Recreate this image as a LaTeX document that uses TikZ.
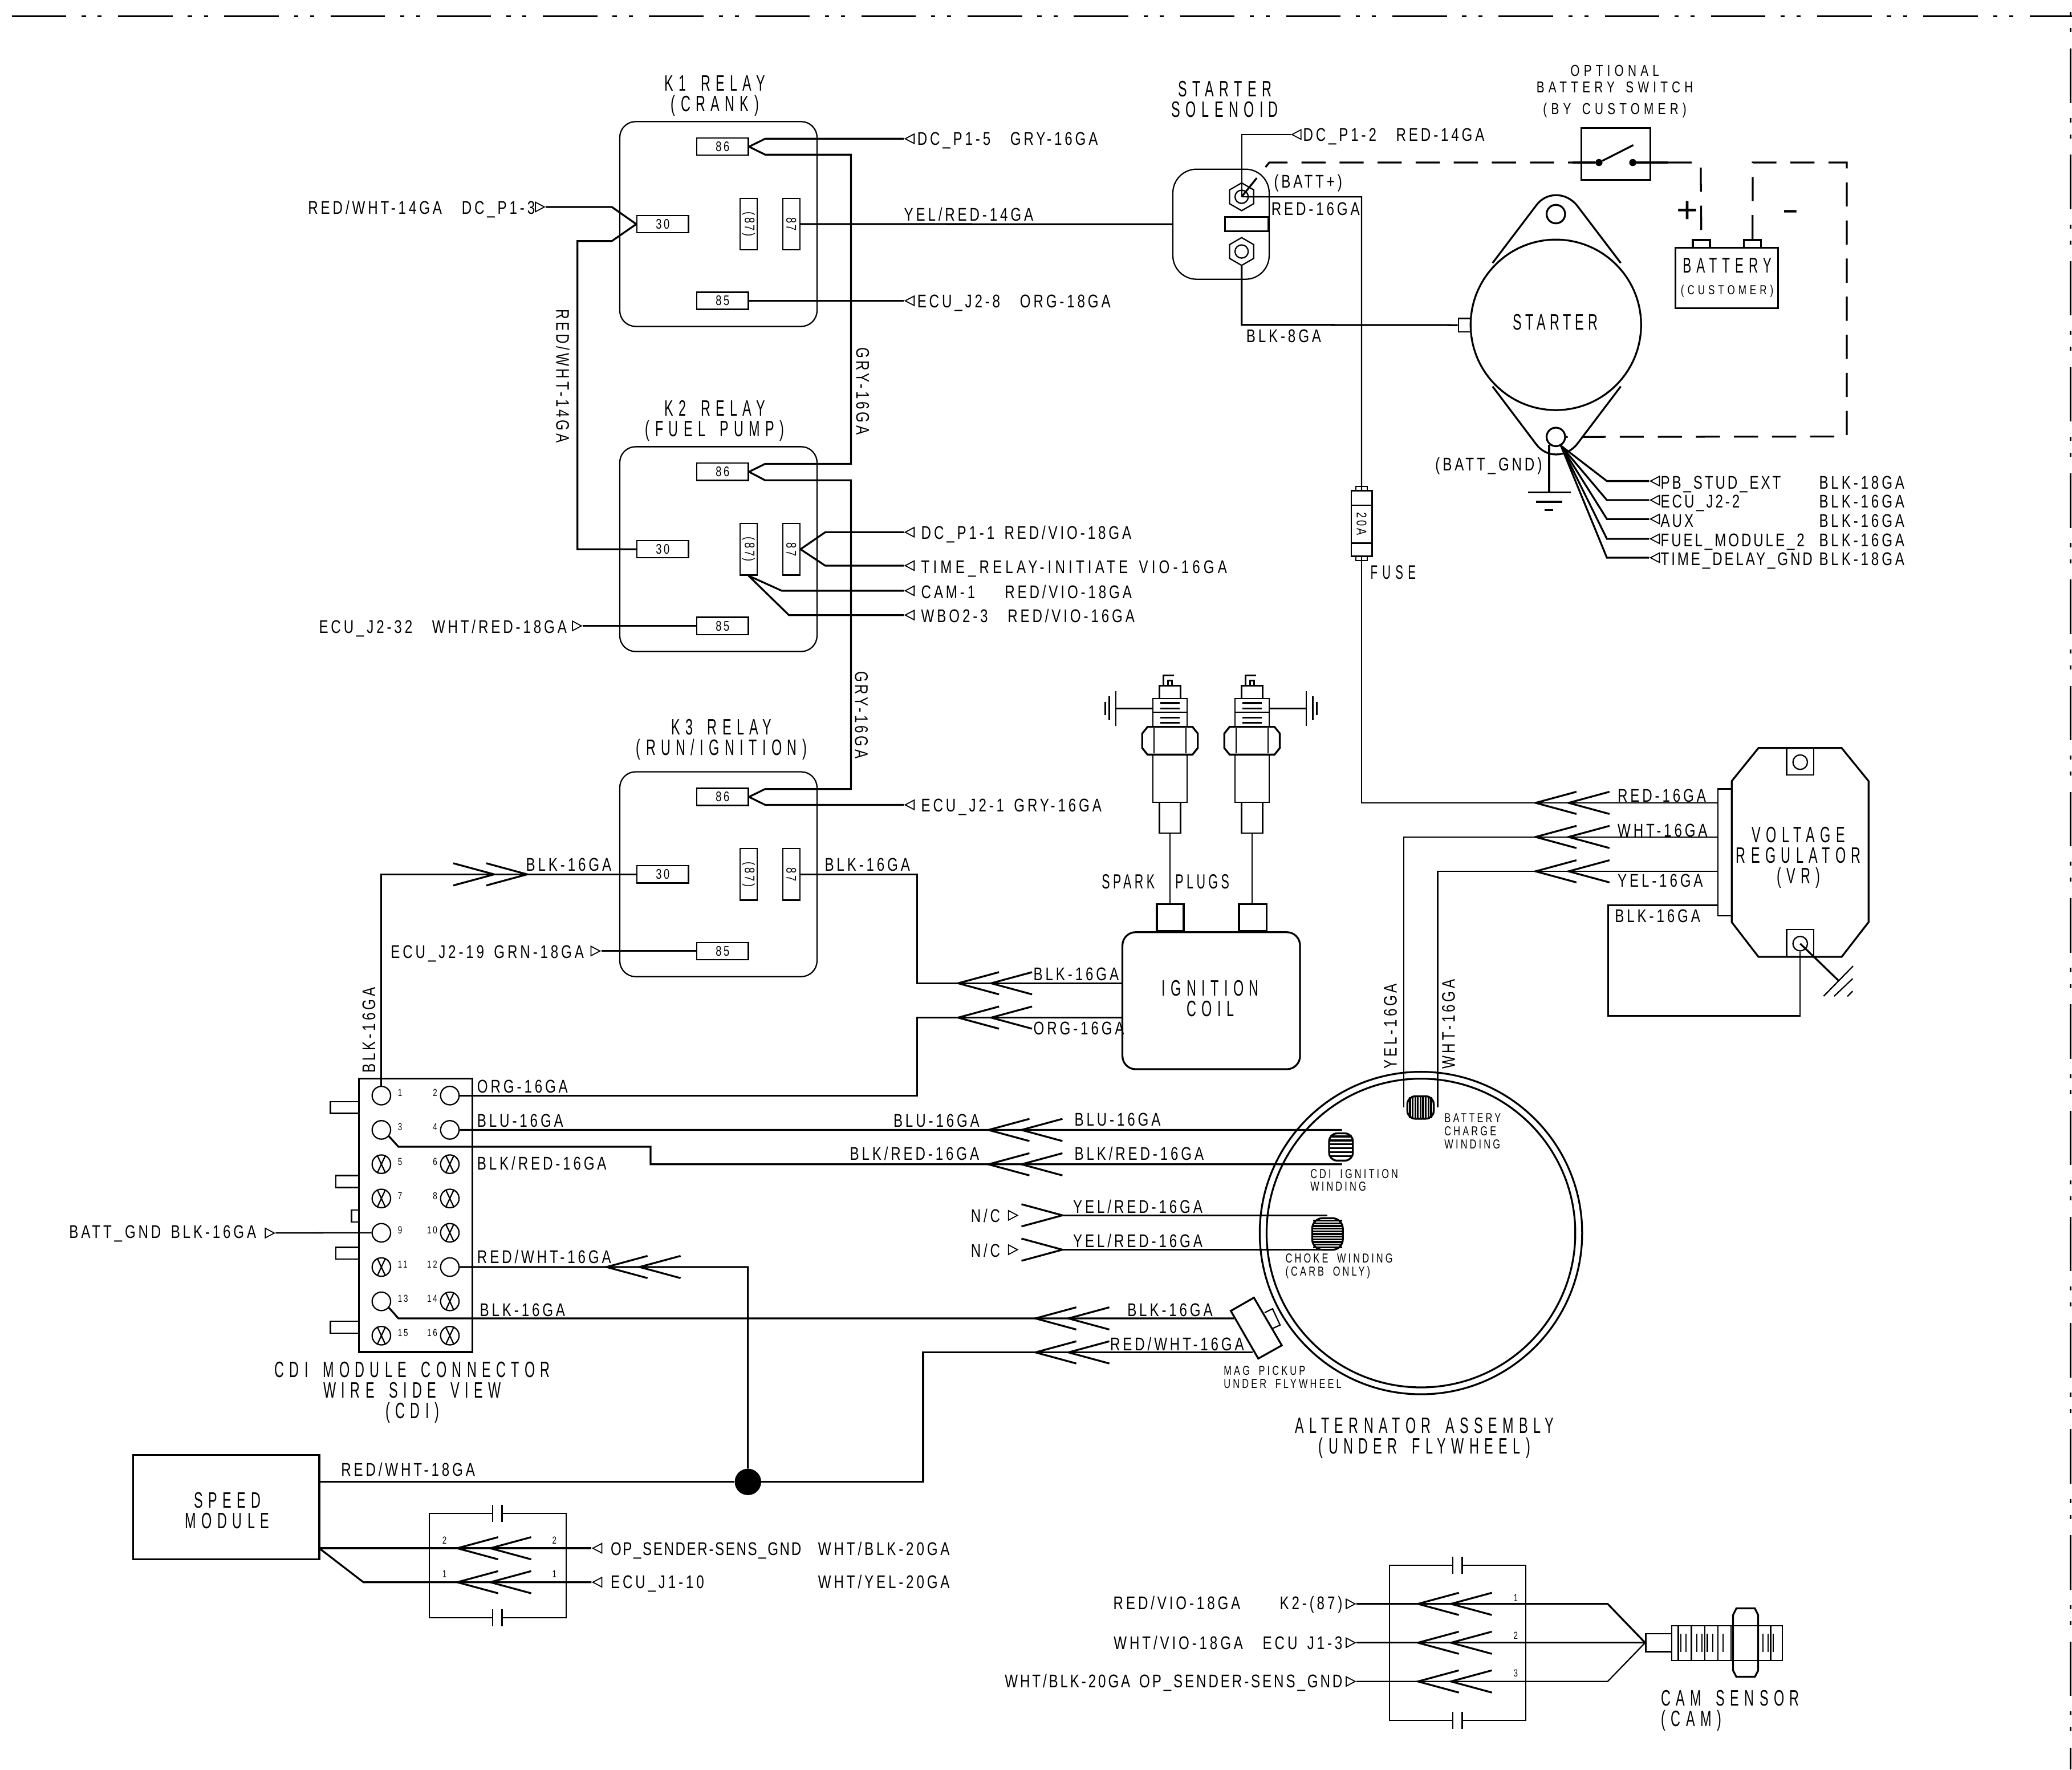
\documentclass[tikz,border=0pt]{standalone}
\usepackage{fontspec}
\setmainfont{Liberation Sans}
\newfontfamily\wirefont{Liberation Sans}[FakeStretch=0.75,LetterSpace=15,WordSpace=1.5]
\newfontfamily\titlefont{Liberation Sans}[FakeStretch=0.6,LetterSpace=24,WordSpace=1.6]
\newfontfamily\tinyfont{Liberation Sans}[FakeStretch=0.72,LetterSpace=18,WordSpace=1.8]
\usetikzlibrary{shapes.geometric}
\tikzset{
	wire/.style={line width=2pt},
	thinwire/.style={line width=1.4pt},
	dashwire/.style={line width=2pt, dash pattern=on 26pt off 15pt},
	borderline/.style={line width=2pt, dash pattern=on 58.7pt off 16.4pt on 4.5pt off 12.8pt on 4.3pt off 17.63pt},
	lbl/.style={font=\wirefont\fontsize{19.8}{22}\selectfont, inner sep=0pt, text height=14.2pt, text depth=0pt},
	lblw/.style={lbl, anchor=west},
	lble/.style={lbl, anchor=east},
	ttl/.style={font=\titlefont\fontsize{24}{22}\selectfont, inner sep=0pt, align=center},
	tiny/.style={font=\tinyfont\fontsize{14}{14}\selectfont, inner sep=0pt, align=left, anchor=west},
	pinbox/.style={draw, thinwire, inner sep=0pt, font=\wirefont\fontsize{15}{15}\selectfont, minimum width=1.95cm, minimum height=.65cm},
	pinboxv/.style={pinbox, rotate=-90},
	cdipin/.style={circle, draw, thinwire, inner sep=0pt, minimum size=.7cm},
	pinnum/.style={font=\wirefont\fontsize{11}{11}\selectfont, inner sep=0pt},
	termbase/.style={isosceles triangle, isosceles triangle stretches, draw, line width=1.1pt, inner sep=0pt, minimum width=.36cm, minimum height=.34cm, anchor=apex},
	termL/.style={termbase, shape border rotate=180},
	termR/.style={termbase},
	box/.style={draw, wire, inner sep=0pt},
}
\newcommand{\chev}[3]{\draw[wire] (#1+#3,#2-8.4) -- (#1,#2) -- (#1+#3,#2+8.4);}
\newcommand{\connmark}[2]{
	\fill[white] (#1-3.5,#2-2.5) rectangle (#1+3.5,#2+2.5);
	\draw[thinwire] (#1-3.5,#2-6.5) -- +(0,13) (#1+3.5,#2-6.5) -- +(0,13);
}
\newcommand{\tight}{\addfontfeature{LetterSpace=12}}
\begin{document}
\begin{tikzpicture}[x=.05cm, y=-.05cm]
	\useasboundingbox (0,0) rectangle (1568,1339);
	\draw[borderline] (9,12.4) -- (1568,12.4);
	\draw[borderline] (1566.8,-43.67) -- (1566.8,1339);
	% relays
	\foreach \kn/\ky in {1/0, 2/246, 3/492} {
		\begin{scope}[shift={(0,\ky)}]
			\node[box, thinwire, rounded corners=.6cm, minimum width=7.465cm, minimum height=7.75cm] (k\kn box) at (543.65,169.5) {};
			\node[pinbox] (k\kn p86) at (546.8,111) {86};
			\node[pinbox] (k\kn p85) at (546.8,227.6) {85};
			\node[pinbox] (k\kn p30) at (501.5,169.6) {30};
			\node[pinboxv] (k\kn pb) at (566.4,169.6) {(87)};
			\node[pinboxv] (k\kn p87) at (598.8,169.6) {87};
		\end{scope}
	}
	\node[ttl] (k1ttl) at (541,72.5) {K1 RELAY\\(CRANK)};
	\node[ttl] (k2ttl) at (541,318.5) {K2 RELAY\\(FUEL PUMP)};
	\node[ttl] (k3ttl) at (546,559.5) {K3 RELAY\\(RUN/IGNITION)};
	% relay terminals
	\node[termL] (tk1a) at (684,105) {};
	\node[termL] (tk1b) at (684,227.6) {};
	\node[termR] (tk1c) at (413,156.6) {};
	\node[termL] (tk2a) at (684,402.7) {};
	\node[termL] (tk2b) at (684,428) {};
	\node[termL] (tk2c) at (684,447) {};
	\node[termL] (tk2e) at (684,465.4) {};
	\node[termR] (tk2d) at (441,473.6) {};
	\node[termL] (tk3a) at (684,609) {};
	\node[termR] (tk3d) at (455,719.6) {};
	\node[lblw] (lk1a) at (694,105) {DC\_P1-5 \ GRY-16GA};
	\node[lblw] (lk1b) at (694,228) {ECU\_J2-8 \ ORG-18GA};
	\node[lble] (lk1c) at (405,157) {RED/WHT-14GA \ DC\_P1-3};
	\node[lblw] (lk1y) at (684,162) {YEL/RED-14GA};
	\node[lbl, rotate=-90] (lk1v) at (426,284.5) {RED/WHT-14GA};
	\node[lbl, rotate=-90] (lgry1) at (653,296) {GRY-16GA};
	\node[lbl, rotate=-90] (lgry2) at (652,541) {GRY-16GA};
	\node[lblw] (lk2a) at (697,403) {DC\_P1-1 RED/VIO-18GA};
	\node[lblw] (lk2b) at (697,429) {\addfontfeature{LetterSpace=19}TIME\_RELAY-INITIATE VIO-16GA};
	\node[lblw] (lk2c) at (697,448) {CAM-1 \ \ RED/VIO-18GA};
	\node[lblw] (lk2e) at (697,466) {WBO2-3 \ RED/VIO-16GA};
	\node[lble] (lk2d) at (429,474) {ECU\_J2-32 \ WHT/RED-18GA};
	\node[lblw] (lk3a) at (697,609) {ECU\_J2-1 GRY-16GA};
	\node[lble] (lk3d) at (442,720) {ECU\_J2-19 GRN-18GA};
	\node[lblw] (lk3b) at (398,654) {BLK-16GA};
	\node[lblw] (lk3c) at (624,654) {BLK-16GA};
	\draw[wire] (k1p86.east) -- (579,105) -- (tk1a);
	\draw[wire] (k1p86.east) -- (579,117) -- (644,117) -- (644,351) -- (579,351) -- (k2p86.east);
	\draw[wire] (k2p86.east) -- (579,363.4) -- (644,363.4) -- (644,597) -- (579,597) -- (k3p86.east);
	\draw[wire] (k3p86.east) -- (579,609) -- (tk3a);
	\draw[wire] (k1p85.east) -- (tk1b);
	\draw[wire] (tk1c) -- (463,156.6) -- (k1p30.west);
	\draw[wire] (k1p30.west) -- (463,182.4) -- (437,182.4) -- (437,415.6) -- (k2p30.west);
	\draw[wire] (k2p87.north) -- (624.5,402.7) -- (tk2a);
	\draw[wire] (k2p87.north) -- (624.5,428) -- (tk2b);
	\draw[wire] (k2pb.east) -- (591.6,447) -- (tk2c);
	\draw[wire] (k2pb.east) -- (597,465.4) -- (tk2e);
	\draw[wire] (tk2d) -- (k2p85.west);
	\draw[wire] (tk3d) -- (k3p85.west);
	% solenoid
	\node[box, thinwire, rounded corners=.9cm, minimum width=3.645cm, minimum height=4.165cm] (sol) at (924,169.65) {};
	\node[box, minimum width=1.645cm, minimum height=.54cm, anchor=east] (sollink) at (960.5,169.6) {};
	\foreach \sn/\sy in {1/148.9, 2/190.3} {
		\node[regular polygon, regular polygon sides=6, regular polygon rotate=30, draw, thinwire, inner sep=0pt, minimum size=1.05cm] (sn\sn) at (939.6,\sy) {};
		\node[circle, draw, thinwire, inner sep=0pt, minimum size=.5cm] (sc\sn) at (939.6,\sy) {};
	}
	\node[ttl] (solttl) at (927,75) {STARTER\\SOLENOID};
	\node[termL] (tsol) at (976.7,101.8) {};
	\node[lblw] (lsol) at (986,102) {DC\_P1-2 \ RED-14GA};
	\node[lblw] (lbatt) at (964,137) {(BATT+)};
	\node[lblw] (lred) at (962,158) {RED-16GA};
	\node[lblw] (lblk8) at (943,254) {BLK-8GA};
	\draw[wire] (k1p87.north) -- (sol.west);
	\draw[thinwire] (sn1.center) -- (939.6,101.8) -- (tsol);
	% starter
	\node[circle, draw, wire, inner sep=0pt, minimum size=6.45cm] (stc) at (1177.4,245.8) {};
	\node[ttl] (stttl) at (1177,244) {\addfontfeature{LetterSpace=18}STARTER};
	\node[box, thinwire, minimum width=.485cm, minimum height=.5cm] (stterm) at (1108.5,246) {};
	\node[circle, draw, wire, inner sep=0pt, minimum size=.7cm] (sth1) at (1177.4,162) {};
	\node[circle, draw, wire, inner sep=0pt, minimum size=.7cm] (sth2) at (1177.4,330.6) {};
	\draw[wire] (1129.5,199) -- (1162.4,155.6) .. controls (1170,145) and (1185,145) .. (1193.5,155.6) -- (1226.5,199);
	\draw[wire] (1129.5,292.4) -- (1162.4,336) .. controls (1170,346.5) and (1185,346.5) .. (1193.5,336) -- (1226.5,292.4);
	\draw[wire] (sn2.south) -- (939.6,245.8) -- (stterm.west);
	\coordinate (stgndtop) at (1172.3,336.5);
	\coordinate (stgnd) at (1172.3,372.6);
	\draw[wire] (stgndtop) -- (stgnd);
	\draw[wire] (1156.4,372.6) -- (1188.5,372.6);
	\draw[wire] (1162.6,379.7) -- (1182.4,379.7);
	\draw[wire] (1169,386) -- (1175.5,386);
	\node[lble] (lbgnd) at (1167,351) {(BATT\_GND)};
	\foreach \n/\cy/\lab/\col in {1/364/PB\_STUD\_EXT/BLK-18GA, 2/378.4/ECU\_J2-2/BLK-16GA, 3/392.7/AUX/BLK-16GA, 4/407.7/FUEL\_MODULE\_2/BLK-16GA, 5/422/TIME\_DELAY\_GND/BLK-18GA} {
		\node[termL] (tfan\n) at (1248,\cy) {};
		\node[lblw] (lfan\n) at (1256.6,\cy+1) {\tight\lab};
		\node[lblw] (cfan\n) at (1376.5,\cy+1) {\col};
		\draw[wire] (sth2.-60) -- (1216,\cy) -- (tfan\n);
	}
	% fuse
	\node[box, thinwire, minimum width=.79cm, minimum height=2.485cm] (fuse) at (1030.4,396.1) {};
	\node[font=\wirefont\fontsize{15}{15}\selectfont, inner sep=0pt, rotate=-90] (fusev) at (1030.4,396.5) {20A};
	\draw[thinwire] (1022.5,382.4) -- (1038.3,382.4) (1022.5,411) -- (1038.3,411);
	\draw[thinwire] (1026,371.3) -- (1026,368) -- (1034.8,368) -- (1034.8,371.3);
	\draw[thinwire] (1026,421) -- (1026,424) -- (1034.8,424) -- (1034.8,421);
	\node[ttl, anchor=west, font=\titlefont\fontsize{21}{22}\selectfont] (lfuse) at (1037,433) {FUSE};
	\draw[thinwire] (sn1.center) -- (1030.4,149) -- (fuse.north);
	% battery and switch
	\node[box, minimum width=2.6cm, minimum height=1.95cm] (swbox) at (1222.8,116.5) {};
	\node[circle, fill, inner sep=0pt, minimum size=.27cm] (swa) at (1210,123) {};
	\node[circle, fill, inner sep=0pt, minimum size=.27cm] (swb) at (1235.6,123) {};
	\coordinate (swblade) at (1236,109.8);
	\draw[wire] (swa) -- (swblade);
	\node[box, minimum width=3.875cm, minimum height=2.29cm] (battbox) at (1306.75,210.4) {};
	\node[box, minimum width=.645cm, minimum height=.29cm] (battp) at (1287.5,184.6) {};
	\node[box, minimum width=.64cm, minimum height=.29cm] (battm) at (1326.2,184.6) {};
	\node[font=\titlefont\fontsize{23}{22}\selectfont, inner sep=0pt] (lbat1) at (1307,201) {BATTERY};
	\node[font=\wirefont\addfontfeature{LetterSpace=26}\fontsize{14}{14}\selectfont, inner sep=0pt] (lbat2) at (1307,220.5) {(CUSTOMER)};
	\node[font=\normalfont\fontsize{40}{40}\selectfont, inner sep=0pt] (lplus) at (1276.8,160.5) {+};
	\node[font=\titlefont\fontsize{40}{40}\selectfont, inner sep=0pt] (lminus) at (1354.9,163) {\textendash};
	\node[font=\wirefont\addfontfeature{LetterSpace=26}\fontsize{17}{18}\selectfont, inner sep=0pt, align=center] (lsw) at (1222,69) {OPTIONAL\\BATTERY SWITCH\\[5pt](BY CUSTOMER)};
	\coordinate (dashA) at (1190,123);
	\coordinate (dashB) at (1262,123);
	\draw[dashwire] (sn1.center) -- (960.5,123) -- (dashA);
	\draw[wire] (dashA) -- (swa);
	\draw[wire] (swb) -- (dashB);
	\draw[dashwire] (dashB) -- (1287,123) -- (battp.north);
	\draw[dashwire] (battm.north) -- (1326.4,123) -- (1397.5,123) -- (1397.5,330.3) -- (sth2.east);
	% regulator
	\draw[wire] (1330.7,566) -- (1393.7,566) -- (1414,591) -- (1414,697.8) -- (1393.7,724) -- (1330.7,724) -- (1310.5,697.8) -- (1310.5,591) -- cycle;
	\node[box, thinwire, minimum width=.525cm, minimum height=4.8cm] (vrstrip) at (1305.2,645) {};
	\node[box, thinwire, minimum width=1.03cm, minimum height=1.025cm] (vrtop) at (1362.3,576.2) {};
	\node[box, thinwire, minimum width=1.03cm, minimum height=1.03cm] (vrbot) at (1362.3,713.7) {};
	\node[circle, draw, thinwire, inner sep=0pt, minimum size=.55cm] (vrc1) at (1362.3,576.7) {};
	\node[circle, draw, thinwire, inner sep=0pt, minimum size=.55cm] (vrc2) at (1362.3,714) {};
	\node[ttl] (vrttl) at (1361,649) {VOLTAGE\\REGULATOR\\(VR)};
	\coordinate (vrred) at (1300,607.5);
	\coordinate (vrwht) at (1300,633.3);
	\coordinate (vryel) at (1300,659.3);
	\coordinate (vrblk) at (1300,685);
	\coordinate (vrgnd) at (1391,741.7);
	\node[lblw] (lvr1) at (1224,602) {RED-16GA};
	\node[lblw] (lvr2) at (1224,628) {WHT-16GA};
	\node[lblw] (lvr3) at (1224,666) {YEL-16GA};
	\node[lblw] (lvr4) at (1222,693) {BLK-16GA};
	\draw[thinwire] (fuse.south) -- (1030.4,607.5) -- (vrred);
	\draw[thinwire] (vrblk) -- (1217,685) -- (1217,768.7) -- (1362.3,768.7) -- (vrc2.south);
	\draw[wire] (vrc2.center) -- (vrgnd);
	\draw[thinwire] (1402.3,731) -- (1380,753.8) (1402,740.5) -- (1388,753.8) (1402,750) -- (1398,754);
	% spark plugs and coil
	\foreach \px/\sgn/\pn in {885.4/-1/1, 947.5/1/2} {
		\begin{scope}[shift={(\px,0)}]
			\draw[thinwire] (-8,607) rectangle (8,630.4);
			\draw[thinwire] (-13,571) rectangle (13,607);
			\draw[wire] (-17,550) -- (17,550) -- (21,555) -- (21,566) -- (17,571) -- (-17,571) -- (-21,566) -- (-21,555) -- cycle;
			\draw[thinwire] (-12,551) -- (-12,570) (12,551) -- (12,570);
			\draw[thinwire] (-13,528.5) rectangle (13,550);
			\draw[thinwire] (-13,539) -- (13,539);
			\foreach \ty in {532,536,543,547}
				\draw[wire] (-7.5,\ty) -- (7.5,\ty);
			\draw[thinwire] (-8,518.8) rectangle (8,528.5);
			\draw[wire] (-5,519) -- (-5,511) -- (3,511) (-1.5,519) -- (-1.5,515) -- (1.5,515) -- (1.5,519);
			\draw[wire] (\sgn*13,536) -- (\sgn*41,536);
			\draw[thinwire] (\sgn*41,523) -- (\sgn*41,549.4);
			\draw[thinwire] (\sgn*46,527) -- (\sgn*46,545);
			\draw[thinwire] (\sgn*49,531) -- (\sgn*49,541);
		\end{scope}
	}
	\node[box, rounded corners=.5cm, minimum width=6.72cm, minimum height=5.185cm] (coil) at (916.6,757.2) {};
	\node[ttl] (coilttl) at (916,755.5) {IGNITION\\COIL};
	\node[box, minimum width=1.01cm, minimum height=1.025cm, anchor=south] (ct1) at (885.6,705.3) {};
	\node[box, minimum width=1.04cm, minimum height=1.025cm, anchor=south] (ct2) at (948,705.3) {};
	\coordinate (pg1) at (885.4,630.4);
	\coordinate (pg2) at (947.5,630.4);
	\draw[thinwire] (pg1) -- (ct1.north -| pg1);
	\draw[thinwire] (pg2) -- (ct2.north -| pg2);
	\node[ttl, font=\titlefont\addfontfeature{LetterSpace=15}\fontsize{22}{22}\selectfont] (lspark) at (882,667) {SPARK \ PLUGS};
	\coordinate (coilblk) at (849.4,744);
	\coordinate (coilorg) at (849.4,770);
	\node[lblw] (lc1) at (782,737) {BLK-16GA};
	\node[lblw] (lc2) at (782,778) {ORG-16GA};
	\draw[wire] (k3p87.north) -- (694,661.6) -- (694,744) -- (coilblk);
	% cdi connector
	\node[box, minimum width=4.3cm, minimum height=10.35cm] (cdi) at (314.5,919.5) {};
	\foreach \tx/\ty in {250/838, 254/894, 266/920, 254/948.3, 250/1004.2}
		\draw[thinwire] (271.5,\ty-4.5) -- (\tx,\ty-4.5) -- (\tx,\ty+4.5) -- (271.5,\ty+4.5);
	\foreach \n in {1,...,16} {
		\pgfmathsetmacro\cy{829+25.95*int((\n-1)/2)}
		\pgfmathsetmacro\cx{mod(\n,2) ? 288.6 : 340.4}
		\pgfmathsetmacro\nx{mod(\n,2) ? 301 : 331}
		\pgfmathparse{mod(\n,2) ? "west" : "east"}
		\edef\anc{\pgfmathresult}
		\node[cdipin] (cdi\n) at (\cx,\cy) {};
		\node[pinnum, anchor=\anc] (cdinum\n) at (\nx,\cy-2) {\n};
	}
	\foreach \n in {5,6,7,8,10,11,14,15,16}
		\draw[thinwire] (cdi\n.65) -- (cdi\n.245) (cdi\n.115) -- (cdi\n.295);
	\node[ttl] (cdittl) at (312,1053.5) {CDI MODULE CONNECTOR\\WIRE SIDE VIEW\\(CDI)};
	\node[termR] (tbatt) at (208.6,933) {};
	\node[lble] (lbattgnd) at (194,932) {BATT\_GND BLK-16GA};
	\node[lbl, rotate=90] (lcdi1) at (279,779.5) {BLK-16GA};
	\node[lblw] (lcdi2) at (361,822) {ORG-16GA};
	\node[lblw] (lcdi4) at (361,848) {BLU-16GA};
	\node[lblw] (lcdi3) at (361,880) {BLK/RED-16GA};
	\node[lblw] (lcdi12) at (361,951) {RED/WHT-16GA};
	\node[lblw] (lcdi13) at (363,991) {BLK-16GA};
	\draw[wire] (cdi1.north) -- (288.6,661.6) -- (k3p30.west);
	\draw[wire] (cdi2.east) -- (694,829) -- (694,770) -- (coilorg);
	\draw[thinwire] (tbatt) -- (cdi9.west);
	% alternator
	\node[circle, draw, wire, inner sep=0pt, minimum size=12.2cm] (alt) at (1075.3,933) {};
	\node[circle, draw, wire, inner sep=0pt, minimum size=11.68cm] (alti) at (1075.3,933) {};
	\node[ttl] (altttl) at (1078,1088) {ALTERNATOR ASSEMBLY\\(UNDER FLYWHEEL)};
	\node[box, rounded corners=.3cm, minimum width=1cm, minimum height=.85cm] (wbat) at (1075,838) {};
	\foreach \wx in {-8,-6,...,8}
		\draw[wire] (1075+\wx,830) -- (1075+\wx,846);
	\node[box, rounded corners=.3cm, minimum width=.9cm, minimum height=1.03cm] (wcdi) at (1014.8,867.9) {};
	\foreach \wy in {-8,-5,...,9}
		\draw[wire] (1006.5,867.9+\wy) -- (1023,867.9+\wy);
	\node[box, rounded corners=.4cm, minimum width=1.16cm, minimum height=1.2cm] (wchk) at (1004.6,933.7) {};
	\foreach \wy in {-10,-8,...,10}
		\draw[wire] (993.5,933.7+\wy) -- (1015.7,933.7+\wy);
	\node[tiny] (lwbat) at (1093,856) {BATTERY\\CHARGE\\WINDING};
	\node[tiny] (lwcdi) at (991.5,893) {CDI IGNITION\\WINDING};
	\node[tiny] (lwchk) at (972.7,958) {CHOKE WINDING\\(CARB ONLY)};
	\node[tiny] (lmag) at (926,1042) {MAG PICKUP\\UNDER FLYWHEEL};
	\node[lbl, rotate=90] (lyel) at (1052,776.5) {YEL-16GA};
	\node[lbl, rotate=90] (lwht) at (1096,775) {WHT-16GA};
	\coordinate (altyel) at (1062.4,838);
	\coordinate (altwht) at (1088,838);
	\draw[thinwire] (altyel) -- (1062.4,633.3) -- (vrwht);
	\draw[thinwire] (altwht) -- (1088,659.3) -- (vryel);
	\coordinate (bluend) at (1015.5,855);
	\coordinate (brdend) at (1015.5,881);
	\coordinate (yr1end) at (1004.6,919.6);
	\coordinate (yr2end) at (1008,945.6);
	\coordinate (magblk) at (933.7,997.6);
	\coordinate (magred) at (947.9,1023.3);
	\draw[wire] (931.4,991.9) -- (948.9,981.9) -- (970,1018) -- (952.2,1028) -- cycle;
	\draw[thinwire] (957,993.3) -- (963,990.3) -- (968.7,1002.6) -- (962.6,1005.4);
	\node[termR] (tnc1) at (771,919.6) {};
	\node[termR] (tnc2) at (771,945.6) {};
	\node[lble] (lnc1) at (757,920) {N/C};
	\node[lble] (lnc2) at (757,946) {N/C};
	\coordinate (nc1) at (804,919.6);
	\coordinate (nc2) at (804,945.6);
	\draw[wire] (nc1) -- (yr1end);
	\draw[thinwire] (nc2) -- (yr2end);
	\node[lblw] (la1) at (676,848) {BLU-16GA};
	\node[lblw] (la2) at (813,847) {BLU-16GA};
	\node[lblw] (la3) at (643,873) {BLK/RED-16GA};
	\node[lblw] (la4) at (813,873) {BLK/RED-16GA};
	\node[lblw] (la5) at (812,913) {YEL/RED-16GA};
	\node[lblw] (la6) at (812,939) {YEL/RED-16GA};
	\node[lblw] (la7) at (853,991) {BLK-16GA};
	\node[lblw] (la8) at (840,1017) {RED/WHT-16GA};
	\draw[wire] (cdi4.east) -- (bluend);
	\draw[wire] (cdi3.-40) -- (301.5,867.7) -- (492.3,867.7) -- (492.3,881) -- (brdend);
	\draw[wire] (cdi13.-40) -- (301.5,997.6) -- (magblk);
	% speed module
	\node[box, minimum width=7.04cm, minimum height=3.95cm] (speed) at (171.2,1140.5) {};
	\node[ttl] (speedttl) at (172,1143) {SPEED\\MODULE};
	\node[circle, fill, inner sep=0pt, minimum size=1cm] (jct) at (566,1121.3) {};
	\coordinate (spd1) at (241.6,1121.3);
	\coordinate (spd2) at (241.6,1171.5);
	\node[lblw] (lspd) at (258,1112) {RED/WHT-18GA};
	\draw[wire] (cdi12.east) -- (566,958.7) -- (jct);
	\draw[wire] (spd1) -- (jct) -- (698.6,1121.3) -- (698.6,1023.3) -- (magred);
	\node[box, thinwire, minimum width=5.175cm, minimum height=3.95cm] (conn) at (376.75,1184.5) {};
	\connmark{376.4}{1145}
	\connmark{376.4}{1224}
	\node[termL] (tsp1) at (447.6,1171.5) {};
	\node[termL] (tsp2) at (447.6,1197.2) {};
	\node[lblw] (lsp1) at (462,1172) {\addfontfeature{LetterSpace=8}OP\_SENDER-SENS\_GND};
	\node[lblw] (lsp2) at (619,1172) {WHT/BLK-20GA};
	\node[lblw] (lsp3) at (462,1197) {ECU\_J1-10};
	\node[lblw] (lsp4) at (619,1197) {WHT/YEL-20GA};
	\foreach \nn/\nx/\ny in {2/336.4/1165.7, 2/419.6/1165.7, 1/336.4/1191, 1/419.6/1191}
		\node[pinnum] at (\nx,\ny) {\nn};
	\draw[wire] (spd2) -- (tsp1);
	\draw[wire] (spd2) -- (275,1197.2) -- (tsp2);
	% cam sensor
	\node[box, thinwire, minimum width=5.165cm, minimum height=5.865cm] (cam) at (1103,1243) {};
	\connmark{1103}{1184.3}
	\connmark{1103}{1301.6}
	\node[box, thinwire, minimum width=.975cm, minimum height=.68cm] (cambox) at (1255.2,1243) {};
	\node[box, thinwire, minimum width=4.19cm, minimum height=1.315cm] (cambody) at (1306.9,1243.2) {};
	\foreach \tx in {1272,1276,...,1304,1334,1338,1342}
		\draw[thinwire] (\tx,1236) -- (\tx,1250);
	\foreach \tx in {1270,1280,1290,1300,1310,1330,1340}
		\draw[thinwire] (\tx,1230) -- (\tx,1256.3);
	\draw[wire, fill=white] (1314,1217) -- (1328,1217) -- (1330.5,1222) -- (1330.5,1264) -- (1328,1268.8) -- (1314,1268.8) -- (1311.5,1264) -- (1311.5,1222) -- cycle;
	\draw[thinwire] (1311.5,1230) -- (1330.5,1230) (1311.5,1256.3) -- (1330.5,1256.3);
	\node[termR] (tc1) at (1026.5,1213.6) {};
	\node[termR] (tc2) at (1026.5,1243) {};
	\node[termR] (tc3) at (1026.5,1272.3) {};
	\node[lble] (lc1a) at (1016,1213) {RED/VIO-18GA \ \ \ K2-(87)};
	\node[lble] (lc2a) at (1016,1243) {WHT/VIO-18GA \ ECU J1-3};
	\node[lble] (lc3a) at (1016,1272) {\tight WHT/BLK-20GA OP\_SENDER-SENS\_GND};
	\foreach \nn/\ny in {1/1209, 2/1237.6, 3/1266}
		\node[pinnum] at (1147,\ny) {\nn};
	\node[ttl, align=left, anchor=west] (camttl) at (1257,1294.5) {CAM SENSOR\\(CAM)};
	\draw[wire] (tc1) -- (1216.6,1213.6) -- (cambox.west);
	\draw[wire] (tc2) -- (cambox.west);
	\draw[thinwire] (tc3) -- (1216.6,1272.3) -- (cambox.west);
	% chevrons
	\foreach \cx/\cy in {725/744, 725/770, 1162/607.5, 1162/633.3, 1162/659.3, 748/855, 748/881, 783.5/997.6, 783.5/1023.3, 459/958.7, 346/1171.5, 346/1197.2, 1073/1213.6, 1073/1243, 1073/1272.3} {
		\chev{\cx}{\cy}{31}
		\chev{\cx+25}{\cy}{31}
	}
	\chev{399}{661.6}{-31}
	\chev{374}{661.6}{-31}
	\chev{804}{919.6}{-31}
	\chev{804}{945.6}{-31}
\end{tikzpicture}
\end{document}
